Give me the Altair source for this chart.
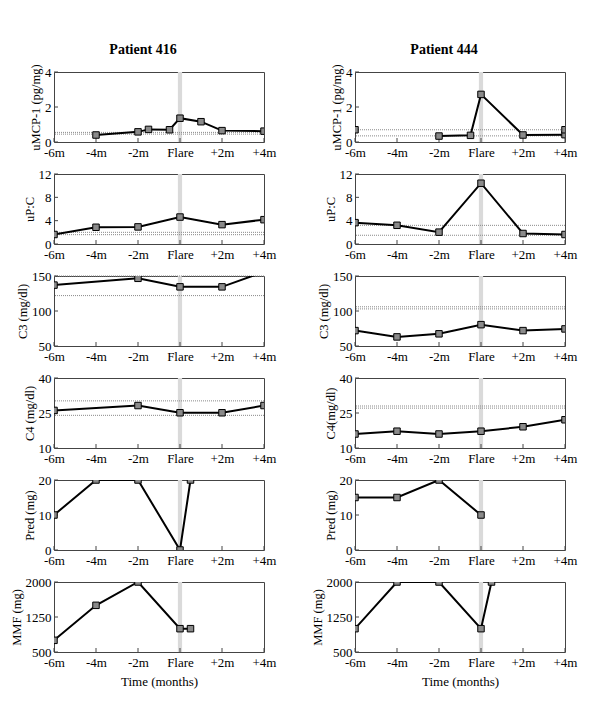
import altair as alt
import pandas as pd

FONT = "Liberation Serif"
X_TICKS = [-6, -4, -2, 0, 2, 4]
FLARE = 0

# ---------------- Patient 416 ----------------
p416_mcp_t = [-4, -2, -1.5, -0.5, 0, 1, 2, 4]
p416_mcp_v = [0.4, 0.58, 0.72, 0.7, 1.36, 1.16, 0.65, 0.62]
p416_mcp_ref = [0.55, 0.45]

p416_upc_t = [-6, -4, -2, 0, 2, 4]
p416_upc_v = [1.63, 2.87, 2.93, 4.62, 3.32, 4.17]
p416_upc_ref = [2.0, 1.6]

p416_c3_t = [-6, -2, 0, 2, 4]
p416_c3_v = [137, 146.7, 134.5, 134.5, 156]
p416_c3_ref = [150, 122]

p416_c4_t = [-6, -2, 0, 2, 4]
p416_c4_v = [26.1, 28.2, 25.1, 25.1, 28.2]
p416_c4_ref = [30.2, 24.0]

p416_pred_t = [-6, -4, -2, 0, 0.5]
p416_pred_v = [10, 20, 20, 0, 20]

p416_mmf_t = [-6, -4, -2, 0, 0.5]
p416_mmf_v = [750, 1500, 2000, 1000, 1000]

# ---------------- Patient 444 ----------------
p444_mcp_t = [-2, -0.5, 0, 2, 4]
p444_mcp_v = [0.34, 0.38, 2.72, 0.4, 0.42]
p444_mcp_extra_t = [-6, 4]
p444_mcp_extra_v = [0.7, 0.7]
p444_mcp_ref = [0.7, 0.35]

p444_upc_t = [-6, -4, -2, 0, 2, 4]
p444_upc_v = [3.66, 3.21, 2.03, 10.42, 1.8, 1.63]
p444_upc_ref = [3.2, 1.5]

p444_c3_t = [-6, -4, -2, 0, 2, 4]
p444_c3_v = [72, 63, 67.4, 80.5, 72, 74.4]
p444_c3_ref = [106, 103]

p444_c4_t = [-6, -4, -2, 0, 2, 4]
p444_c4_v = [16.0, 17.2, 16.0, 17.2, 19.1, 22.1]
p444_c4_ref = [28.0, 27.1]

p444_pred_t = [-6, -4, -2, 0]
p444_pred_v = [15, 15, 20, 10]

p444_mmf_t = [-6, -4, -2, 0, 0.5]
p444_mmf_v = [1000, 2000, 2000, 1000, 2000]

W, H = 210, 70


def panel(times, vals, refs, domain, yticks, ytitle, extra_t=None, extra_v=None, xtitle=False):
    xs = alt.Scale(domain=[-6, 4], nice=False, zero=False)
    ys = alt.Scale(domain=domain, nice=False, zero=False)
    xaxis = alt.Axis(
        values=X_TICKS,
        labelExpr="datum.value == 0 ? 'Flare' : (datum.value > 0 ? '+' + datum.value + 'm' : datum.value + 'm')",
        title="Time (months)" if xtitle else None,
        ticks=False, domain=False, grid=False, tickSize=0,
        labelFont=FONT, labelFontSize=13, labelColor="black", labelPadding=4,
        labelFlush=False, labelOverlap=False, titleFont=FONT, titleFontSize=13,
        titleFontWeight="normal", titleColor="black", titlePadding=6,
    )
    yaxis = alt.Axis(
        values=yticks, title=ytitle, format="d", ticks=False, domain=False, grid=False,
        tickSize=0, labelFont=FONT, labelFontSize=13, labelColor="black", labelPadding=3,
        labelFlush=False, labelOverlap=False, titleFont=FONT, titleFontSize=12.5,
        titleFontWeight="normal", titleColor="black", titlePadding=2,
    )

    def X():
        return alt.X("t:Q", scale=xs, axis=xaxis)

    def Y():
        return alt.Y("v:Q", scale=ys, axis=yaxis)

    band = alt.Chart(pd.DataFrame({"t": [FLARE - 0.1], "t2": [FLARE + 0.1]})).mark_rect(
        color="#dadada").encode(x=X(), x2="t2:Q", y=alt.value(0), y2=alt.value(H))
    layers = [band]
    if refs:
        ref = alt.Chart(pd.DataFrame({"v": refs})).mark_rule(
            color="#888888", strokeWidth=1, strokeDash=[1, 1]).encode(y=Y())
        layers.append(ref)
    xt = alt.Chart(pd.DataFrame({"t": X_TICKS})).mark_rule(color="#444444").encode(
        x=X(), y=alt.value(H), y2=alt.value(H - 4))
    yt = alt.Chart(pd.DataFrame({"v": yticks})).mark_rule(color="#444444").encode(
        y=Y(), x=alt.value(0), x2=alt.value(4))
    layers += [xt, yt]
    df = pd.DataFrame({"t": times, "v": vals})
    line = alt.Chart(df).mark_line(color="black", strokeWidth=2, clip=True).encode(x=X(), y=Y())
    pts = alt.Chart(df).mark_square(size=42, color="#8a8a8a", stroke="black",
                                    strokeWidth=1, opacity=1, clip=True).encode(x=X(), y=Y())
    layers += [line, pts]
    if extra_t:
        ex = alt.Chart(pd.DataFrame({"t": extra_t, "v": extra_v})).mark_square(
            size=42, color="#8a8a8a", stroke="black", strokeWidth=1, opacity=1, clip=True
        ).encode(x=X(), y=Y())
        layers.append(ex)
    return alt.layer(*layers).properties(width=W, height=H)


col416 = alt.vconcat(
    panel(p416_mcp_t, p416_mcp_v, p416_mcp_ref, [0, 4], [0, 2, 4], "uMCP-1 (pg/mg)"),
    panel(p416_upc_t, p416_upc_v, p416_upc_ref, [0, 12], [0, 4, 8, 12], "uP:C"),
    panel(p416_c3_t, p416_c3_v, p416_c3_ref, [50, 150], [50, 100, 150], "C3 (mg/dl)"),
    panel(p416_c4_t, p416_c4_v, p416_c4_ref, [10, 40], [10, 25, 40], "C4 (mg/dl)"),
    panel(p416_pred_t, p416_pred_v, [], [0, 20], [0, 10, 20], "Pred (mg)"),
    panel(p416_mmf_t, p416_mmf_v, [], [500, 2000], [500, 1250, 2000], "MMF (mg)", xtitle=True),
    spacing=7,
    title=alt.Title("Patient 416", font=FONT, fontSize=14, fontWeight="bold", color="black"),
)

col444 = alt.vconcat(
    panel(p444_mcp_t, p444_mcp_v, p444_mcp_ref, [0, 4], [0, 2, 4], "uMCP-1 (pg/mg)",
          extra_t=p444_mcp_extra_t, extra_v=p444_mcp_extra_v),
    panel(p444_upc_t, p444_upc_v, p444_upc_ref, [0, 12], [0, 4, 8, 12], "uP:C"),
    panel(p444_c3_t, p444_c3_v, p444_c3_ref, [50, 150], [50, 100, 150], "C3 (mg/dl)"),
    panel(p444_c4_t, p444_c4_v, p444_c4_ref, [10, 40], [10, 25, 40], "C4(mg/dl)"),
    panel(p444_pred_t, p444_pred_v, [], [0, 20], [0, 10, 20], "Pred (mg)"),
    panel(p444_mmf_t, p444_mmf_v, [], [500, 2000], [500, 1250, 2000], "MMF (mg)", xtitle=True),
    spacing=7,
    title=alt.Title("Patient 444", font=FONT, fontSize=14, fontWeight="bold", color="black"),
)

chart = alt.hconcat(col416, col444, spacing=33).properties(
    padding={"top": 35, "left": 1, "right": 5, "bottom": 5}
).configure(font=FONT).configure_axis(labelFont=FONT, titleFont=FONT).configure_view(
    stroke="#444444", strokeWidth=1).configure_title(anchor="middle", offset=6, font=FONT)

chart.save("out.html", embed_options={"renderer": "svg", "actions": False})
